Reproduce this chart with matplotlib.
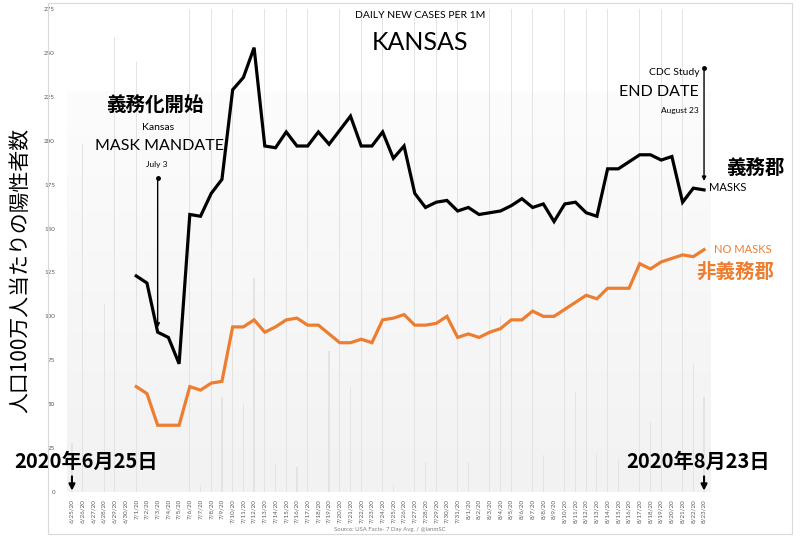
import numpy as np
import matplotlib
matplotlib.use("Agg")
import matplotlib.pyplot as plt
from matplotlib.patches import Rectangle
from matplotlib.colors import LinearSegmentedColormap

# Dates (6/25/20 .. 8/23/20)
DATES = [f"6/{d}/20" for d in range(25, 31)] + \
        [f"7/{d}/20" for d in range(1, 32)] + \
        [f"8/{d}/20" for d in range(1, 24)]

# 7-day avg per 1M, starting 7/1/20 (index 6)
START = 6
MASKS = [123, 119, 91, 88, 73, 158, 157, 170, 178, 229, 236, 253, 197, 196,
         205, 197, 197, 205, 198, 206, 214, 197, 197, 205, 190, 197, 170, 162,
         165, 166, 160, 162, 158, 159, 160, 163, 167, 162, 164, 154, 164, 165,
         159, 157, 184, 184, 188, 192, 192, 189, 191, 165, 173, 172]
NO_MASKS = [60, 56, 38, 38, 38, 60, 58, 62, 63, 94, 94, 98, 91, 94,
            98, 99, 95, 95, 90, 85, 85, 87, 85, 98, 99, 101, 95, 95,
            96, 100, 88, 90, 88, 91, 93, 98, 98, 103, 100, 100, 104, 108,
            112, 110, 116, 116, 116, 130, 127, 131, 133, 135, 134, 138]

# faint daily raw values drawn behind (estimated)
DAILY = [28, 198, 0, 107, 259, 0, 245, 0, 0, 0, 0, 300, 4, 300, 54, 300,
         50, 122, 300, 16, 300, 14, 300, 0, 80, 300, 60, 300, 0, 300, 4, 0,
         300, 17, 300, 0, 300, 17, 0, 300, 100, 300, 0, 300, 21, 0, 300, 57,
         300, 22, 300, 19, 0, 300, 40, 300, 0, 300, 73, 54]

YTICKS = list(range(0, 276, 25))

LATIN = ["Lato", "Noto Sans CJK JP", "DejaVu Sans"]
JP = ["Noto Sans CJK JP", "DejaVu Sans"]
ORANGE = "#ED7D31"

plt.rcParams['font.family'] = LATIN

fig = plt.figure(figsize=(8, 5.36), dpi=100)
ax = fig.add_axes([62 / 800, 44 / 536, 652 / 800, 483 / 536])

x = np.arange(len(DATES))
xs = np.arange(START, START + len(MASKS))

# background gradient
grad = np.linspace(0, 1, 100).reshape(-1, 1)
cmap = LinearSegmentedColormap.from_list("bg", ["#f2f2f2", "#fcfcfc"])
ax.imshow(grad, extent=[-0.5, 59.6, 0, 228], origin="lower", aspect="auto",
          cmap=cmap, zorder=0)

ax.bar(x, DAILY, width=0.11, color="#e3e3e3", zorder=1)
ax.plot(xs, MASKS, color="black", lw=2.3, zorder=3, solid_joinstyle="miter")
ax.plot(xs, NO_MASKS, color=ORANGE, lw=2.3, zorder=3, solid_joinstyle="miter")

ax.set_xlim(-0.93, 59.93)
ax.set_ylim(0, 275)
ax.set_yticks(YTICKS)
ax.set_yticklabels([str(v) for v in YTICKS], fontsize=4.5, color="#595959")
ax.set_xticks(x)
ax.set_xticklabels(DATES, rotation=90, fontsize=4.5, color="#595959")
ax.tick_params(length=0, pad=5)
for s in ax.spines.values():
    s.set_visible(False)
ax.set_facecolor("white")

# titles
ax.text(32.5, 271.5, "DAILY NEW CASES PER 1M", ha="center", va="center", fontsize=7.5)
ax.text(32.5, 256, "KANSAS", ha="center", va="center", fontsize=18)

# mask mandate annotation
ax.text(7.75, 219.8, "義務化開始", ha="center", va="center", fontsize=14,
        family=JP, fontweight="bold")
ax.text(8.0, 207.8, "Kansas", ha="center", va="center", fontsize=7.5)
ax.text(8.2, 197, "MASK MANDATE", ha="center", va="center", fontsize=11.5)
ax.text(7.94, 186.7, "July 3", ha="center", va="center", fontsize=6)
ax.annotate("", xy=(8, 92), xytext=(8, 179),
            arrowprops=dict(arrowstyle="-|>", color="black", lw=1, mutation_scale=6))
ax.plot([8], [179], "o", color="black", ms=2.5, zorder=4)

# CDC study end
ax.text(58.6, 238.6, "CDC Study", ha="right", va="center", fontsize=7.5)
ax.text(58.5, 227.7, "END DATE", ha="right", va="center", fontsize=11.5)
ax.text(58.5, 217, "August 23", ha="right", va="center", fontsize=6)
ax.annotate("", xy=(59, 175.5), xytext=(59, 241.5),
            arrowprops=dict(arrowstyle="-|>", color="black", lw=1, mutation_scale=6))
ax.plot([59], [241.5], "o", color="black", ms=2.5, zorder=4, clip_on=False)

ax.text(59.5, 173.6, "MASKS", ha="left", va="center", fontsize=8)
ax.text(63.8, 184.5, "義務郡", ha="center", va="center", fontsize=14,
        family=JP, fontweight="bold")
ax.text(62.6, 137.8, "NO MASKS", ha="center", va="center", fontsize=8, color=ORANGE)
ax.text(61.9, 125.3, "非義務郡", ha="center", va="center", fontsize=14,
        family=JP, fontweight="bold", color=ORANGE)

# date markers
ax.text(1.3, 17.6, "2020年6月25日", ha="center", va="center", fontsize=14.5,
        family=JP, fontweight="bold", clip_on=False)
ax.text(58.4, 17.6, "2020年8月23日", ha="center", va="center", fontsize=14.5,
        family=JP, fontweight="bold", clip_on=False)
for xi in (0, 59):
    ax.annotate("", xy=(xi, -0.8), xytext=(xi, 10.5), annotation_clip=False,
                arrowprops=dict(arrowstyle="-|>", color="black", lw=1.5, mutation_scale=9))

# y label
fig.text(20 / 800, 1 - 270 / 536, "人口100万人当たりの陽性者数", rotation=90,
         ha="center", va="center", fontsize=15, family=JP)

fig.text(390 / 800, 1 - 530 / 536, "Source: USA Facts- 7 Day Avg. / @IanmSC",
         ha="center", va="center", fontsize=4.3, color="#7f7f7f")

# outer frame
fig.patches.append(Rectangle((48 / 800, 2 / 536), 744 / 800, 531 / 536,
                             transform=fig.transFigure, fill=False,
                             edgecolor="#d9d9d9", lw=0.8))

fig.savefig("out.png", dpi=100)
